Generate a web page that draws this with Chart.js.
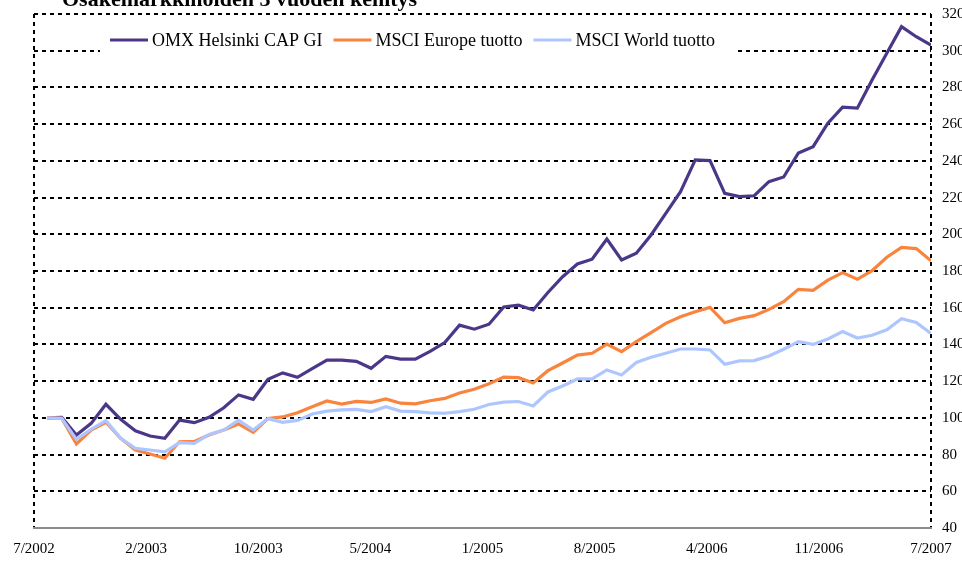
<!DOCTYPE html>
<html>
<head>
<meta charset="utf-8">
<script src="https://cdn.jsdelivr.net/npm/chart.js@4"></script>
<style>
  body { margin: 0; background: #fff; }
  #wrap { width: 962px; height: 561px; }
</style>
</head>
<body>
<div id="wrap"><canvas id="myChart" width="962" height="561"></canvas></div>
<script>
const title = 'Osakemarkkinoiden 3 vuoden kehitys';
const xTickLabels = ['7/2002', '2/2003', '10/2003', '5/2004', '1/2005', '8/2005', '4/2006', '11/2006', '7/2007'];
const yTicks = { min: 40, max: 320, step: 20 };

// month-end index values, 6/2002 = 100
const omxHelsinki = [100, 100.3, 90.7, 97, 107.4, 99.2, 93, 90.1, 88.9, 98.8, 97.4,
    100.3, 105.5, 112.5, 110.1, 121, 124.5, 122.1, 126.8, 131.5, 131.5,
    130.8, 127, 133.5, 132, 132, 136.2, 141, 150.5, 148.3, 151,
    160.4, 161.4, 158.8, 168.3, 176.9, 183.8, 186.4, 197.4, 186, 189.7,
    199.6, 211.4, 223.2, 240.5, 240.1, 222.3, 220.5, 221, 228.7, 231.2,
    244.3, 247.7, 260.5, 269.2, 268.7, 284, 298.6, 313.1, 307.6, 303.1];
const msciEurope = [100, 99.8, 85.8, 93.4, 97.6, 88.9, 82.5, 80.3, 78, 87, 87.2,
    90.7, 93.4, 96.7, 92.1, 99.6, 100.5, 102.8, 106.1, 109.2, 107.5,
    109, 108.4, 110.3, 108, 107.6, 109.3, 110.6, 113.5, 115.6, 118.6,
    122.2, 121.9, 119, 125.7, 129.9, 134.2, 135.2, 140.2, 136.1, 141.5,
    146.4, 151.5, 155.1, 157.8, 160.2, 151.8, 154.2, 155.7, 159.1, 163.3,
    170, 169.5, 175, 179.1, 175.5, 180.2, 187.5, 192.9, 192.2, 185.6];
const msciWorld = [100, 99.8, 88.3, 93.8, 98.5, 88.9, 83.4, 82.5, 81.5, 86.5, 86.1,
    91, 93.4, 98.8, 93.4, 99.6, 97.6, 98.6, 102.1, 103.7, 104.3,
    104.6, 103.4, 106.1, 103.7, 103.4, 102.7, 102.5, 103.4, 104.7, 107.3,
    108.6, 108.9, 106.5, 114.1, 117.4, 121.2, 121.2, 126.1, 123.4, 130.2,
    133, 135.2, 137.5, 137.5, 137, 129.2, 131, 131.2, 133.7, 137.4,
    141.5, 140, 143, 147, 143.5, 145, 148, 154, 152, 146];

const toPoints = arr => arr.map((v, i) => ({ x: i, y: v }));

const serif = "'Liberation Serif', 'Times New Roman', serif";

const data = {
    datasets: [
        { label: 'OMX Helsinki CAP GI', data: toPoints(omxHelsinki), borderColor: '#4b3789', order: 3 },
        { label: 'MSCI Europe tuotto', data: toPoints(msciEurope), borderColor: '#f8843d', order: 2 },
        { label: 'MSCI World tuotto', data: toPoints(msciWorld), borderColor: '#aec6ff', order: 1 },
    ].map(d => Object.assign(d, { borderWidth: 3.2, pointRadius: 0, tension: 0, fill: false })),
};

// legend box and cut-off title drawn by hand
const overlay = {
    id: 'overlay',
    afterDraw(chart) {
        const ctx = chart.ctx;
        ctx.save();
        ctx.fillStyle = '#fff';
        ctx.fillRect(100, 26, 636, 40);
        ctx.font = '18px ' + serif;
        ctx.textBaseline = 'middle';
        let x = 110;
        const y = 40;
        chart.data.datasets.forEach(ds => {
            ctx.strokeStyle = ds.borderColor;
            ctx.lineWidth = 3;
            ctx.beginPath();
            ctx.moveTo(x, y);
            ctx.lineTo(x + 38, y);
            ctx.stroke();
            ctx.fillStyle = '#000';
            ctx.fillText(ds.label, x + 42, y + 1);
            x += 42 + ctx.measureText(ds.label).width + 11;
        });
        ctx.font = 'bold 22px ' + serif;
        ctx.textBaseline = 'alphabetic';
        ctx.fillText(title, 62, 6);
        ctx.restore();
    }
};

const config = {
    type: 'line',
    data: data,
    options: {
        responsive: false,
        animation: false,
        layout: { padding: { top: 14, left: 34, right: 0, bottom: 0 } },
        plugins: {
            legend: { display: false },
            tooltip: { enabled: false }
        },
        scales: {
            x: {
                type: 'linear',
                min: -0.88,
                max: 60,
                afterBuildTicks: scale => {
                    const n = xTickLabels.length - 1;
                    scale.ticks = xTickLabels.map((t, i) => ({ value: scale.min + (scale.max - scale.min) * i / n }));
                },
                afterFit: scale => { scale.height = 33; scale.paddingLeft = 0; scale.paddingRight = 0; },
                ticks: {
                    autoSkip: false,
                    maxRotation: 0,
                    padding: 12,
                    color: '#000',
                    font: { family: serif, size: 15 },
                    callback: (v, i) => xTickLabels[i]
                },
                grid: {
                    drawTicks: false,
                    lineWidth: 2,
                    color: c => (c.index === 0 || c.index === xTickLabels.length - 1) ? '#000' : 'rgba(0,0,0,0)'
                },
                border: { display: true, color: '#8c8c8c', width: 2, dash: [4, 4] }
            },
            y: {
                position: 'right',
                min: yTicks.min,
                max: yTicks.max,
                afterFit: scale => { scale.width = 31; scale.paddingTop = 0; scale.paddingBottom = 0; },
                ticks: {
                    stepSize: yTicks.step,
                    padding: 11,
                    color: '#000',
                    font: { family: serif, size: 15 }
                },
                grid: {
                    drawTicks: false,
                    lineWidth: 2,
                    color: c => c.tick && c.tick.value === yTicks.min ? 'rgba(0,0,0,0)' : '#000'
                },
                border: { display: false, dash: [4, 4] }
            }
        }
    },
    plugins: [overlay]
};

const ctx = document.getElementById('myChart').getContext('2d');
const myChart = new Chart(ctx, config);
</script>
</body>
</html>
